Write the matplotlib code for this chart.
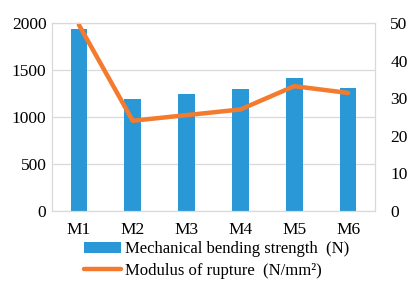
import matplotlib.pyplot as plt

plt.rcParams['font.family'] = ['Liberation Serif', 'DejaVu Serif']

# data
samples = ["M1", "M2", "M3", "M4", "M5", "M6"]
bending_strength = [1940, 1190, 1250, 1300, 1410, 1310]   # N
modulus_rupture = [49.5, 24, 25.5, 27, 33.2, 31.4]         # N/mm2

fig = plt.figure(figsize=(4.14, 2.82), dpi=100)
ax = fig.add_axes([52/414, 1 - 211/282, 323/414, 188/282])
ax2 = ax.twinx()

x = list(range(len(samples)))
bars = ax.bar(x, bending_strength, width=0.31, color="#2A98D6", zorder=2,
              label="Mechanical bending strength  (N)")
line, = ax2.plot(x, modulus_rupture, color="#F47A2E", lw=3.2, clip_on=False,
                 solid_capstyle="round", label="Modulus of rupture  (N/mm²)")

ax.set_xlim(-0.5, 5.5)
ax.set_ylim(0, 2000)
ax.set_yticks([0, 500, 1000, 1500, 2000])
ax2.set_ylim(0, 50)
ax2.set_yticks([0, 10, 20, 30, 40, 50])
ax.set_xticks(x)
ax.set_xticklabels(samples)

ax.grid(axis="y", color="#D9D9D9", lw=0.9, zorder=0)
for a in (ax, ax2):
    for s in a.spines.values():
        s.set_color("#D9D9D9")
    a.tick_params(length=0, labelsize=12.5, colors="black")
ax.tick_params(axis="y", pad=4)
ax.tick_params(axis="x", pad=8)
ax2.tick_params(axis="y", pad=11)

fig.legend([bars, line], [bars.get_label(), line.get_label()],
           loc="upper left", bbox_to_anchor=(76/414, 1 - 233/282),
           frameon=False, fontsize=12, handlelength=2.2, handletextpad=0.25,
           labelspacing=0.35, borderpad=0)

fig.savefig("out.png", dpi=100)
